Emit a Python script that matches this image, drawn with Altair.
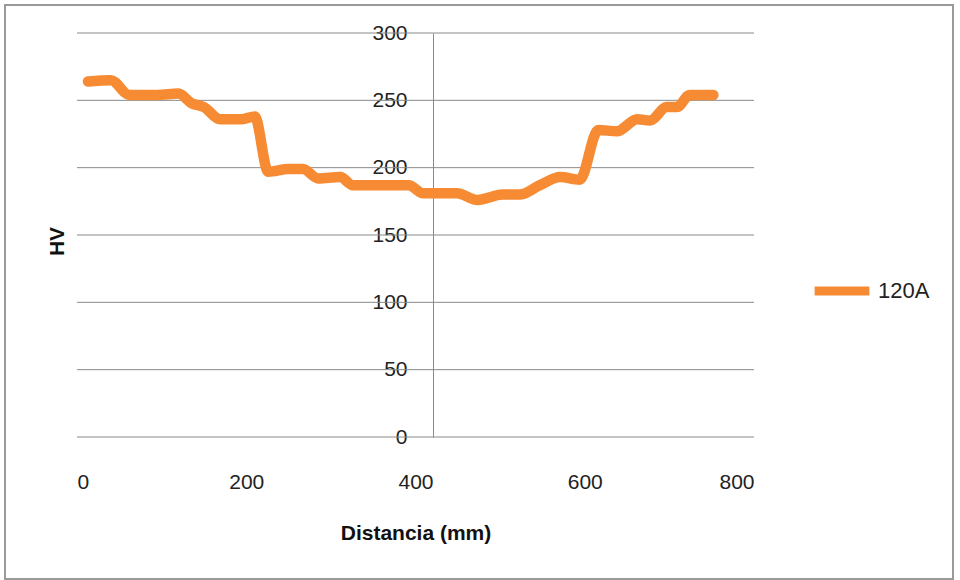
import altair as alt
import pandas as pd

# Hardness profile across the weld (120A)
distancia = [13, 40, 62, 95, 120, 135, 150, 169, 195, 210, 226, 250, 267, 285,
             311, 326, 360, 392, 409, 449, 473, 503, 523, 547, 571, 594, 616,
             638, 662, 677, 697, 709, 724, 752]
dureza = [264, 265, 254, 254, 255, 248, 245, 236, 236, 238, 197, 199, 199, 192,
          193, 187, 187, 187, 181, 181, 176, 180, 180, 187, 193, 191, 228,
          227, 236, 235, 245, 245, 254, 254]
serie = ["120A"] * len(distancia)

y_ticks = [0, 50, 100, 150, 200, 250, 300]
x_ticks = [0, 200, 400, 600, 800]

df = pd.DataFrame({"Distancia": distancia, "HV": dureza, "Serie": serie})
grid_df = pd.DataFrame({"HV": y_ticks})

FONT = "Liberation Sans"
GRID = "#8a8a8a"
ORANGE = "#F68B34"

y_scale = alt.Scale(domain=[0, 300], nice=False)

# vertical axis crosses the plot near x = 420 mm
y_axis = alt.Axis(values=y_ticks, title="HV",
                  grid=False, domain=True, domainColor=GRID,
                  ticks=False, offset=-356, labelPadding=26,
                  labelFontSize=21, titleFontSize=21,
                  titleX=-366, titleY=208, titleAngle=270)

# horizontal gridlines across the plot area
grid = alt.Chart(grid_df).mark_rule(color=GRID, strokeWidth=1).encode(
    y=alt.Y("HV:Q", scale=y_scale, axis=y_axis),
    x=alt.value(0), x2=alt.value(677),
)

line = alt.Chart(df).mark_line(
    strokeWidth=10.5, strokeCap="round", strokeJoin="round", interpolate="monotone"
).encode(
    x=alt.X("Distancia:Q",
            scale=alt.Scale(domain=[0, 800], nice=False, zero=False),
            axis=alt.Axis(values=x_ticks, title="Distancia (mm)",
                          grid=False, domain=False, ticks=False,
                          labelPadding=34, titlePadding=30,
                          labelFontSize=21, titleFontSize=21)),
    y=alt.Y("HV:Q", scale=y_scale, axis=y_axis),
    color=alt.Color("Serie:N", scale=alt.Scale(range=[ORANGE]),
                    legend=alt.Legend(title=None, orient="none", legendX=733, legendY=226,
                                      symbolType="stroke", symbolSize=3000,
                                      symbolStrokeWidth=9, labelFontSize=22,
                                      labelOffset=4)),
)

# outer frame of the chart
frame = alt.Chart(df).mark_rect(fill=None, stroke="#9a9a9a", strokeWidth=2).encode(
    x=alt.value(-72), x2=alt.value(876), y=alt.value(-28), y2=alt.value(142 + 404)
)

chart = alt.layer(frame, grid, line).properties(
    width=677, height=404,
    autosize=alt.AutoSizeParams(type="none"),
    padding={"left": 77, "top": 33, "right": 206, "bottom": 143},
).configure(
    font=FONT
).configure_view(
    strokeWidth=0, stroke="transparent"
).configure_axis(
    labelColor="#222222", titleColor="#111111", labelFont=FONT, titleFont=FONT,
    titleFontWeight="bold"
).configure_legend(labelColor="#222222", labelFont=FONT)

chart.save("out.html", embed_options={"renderer": "svg", "actions": False})
